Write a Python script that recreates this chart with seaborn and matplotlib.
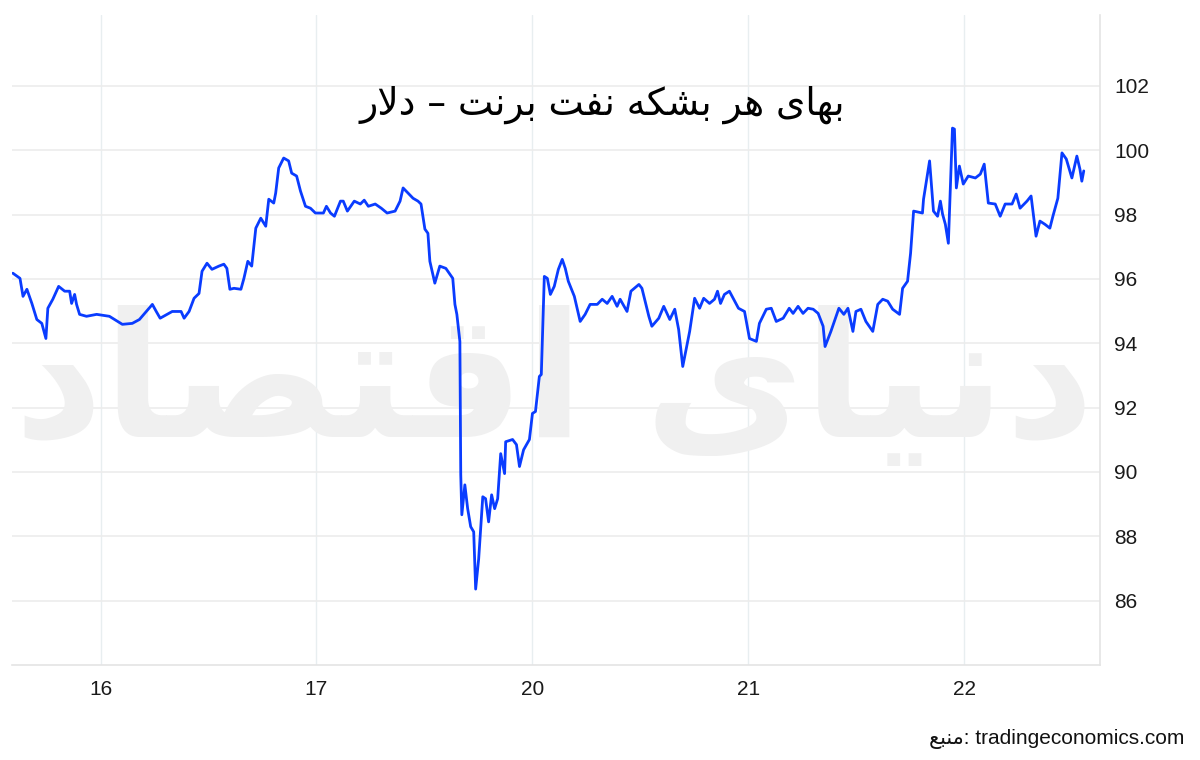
import matplotlib
matplotlib.use("Agg")
import matplotlib.pyplot as plt
import seaborn as sns
import pandas as pd

# ---------------- data (x = trading-day position, 0 -> "16") ----------------
day_labels = ["16", "17", "20", "21", "22"]
day_ticks = [0, 1, 2, 3, 4]
y_ticks = [86, 88, 90, 92, 94, 96, 98, 100, 102]

time_pos = [
    -0.406, -0.373, -0.359, -0.341, -0.318, -0.295, -0.272, -0.253, -0.244, -0.221,
    -0.194, -0.166, -0.143, -0.134, -0.120, -0.111, -0.097, -0.065, -0.018, 0.041,
    0.101, 0.147, 0.180, 0.212, 0.240, 0.258, 0.276, 0.332, 0.373, 0.387,
    0.410, 0.433, 0.456, 0.470, 0.493, 0.516, 0.548, 0.571, 0.585, 0.599,
    0.618, 0.650, 0.664, 0.682, 0.700, 0.719, 0.742, 0.765, 0.779, 0.802,
    0.811, 0.825, 0.848, 0.871, 0.885, 0.908, 0.926, 0.949, 0.972, 0.995,
    1.032, 1.046, 1.065, 1.083, 1.111, 1.124, 1.143, 1.175, 1.203, 1.221,
    1.240, 1.272, 1.300, 1.327, 1.364, 1.387, 1.401, 1.424, 1.447, 1.470,
    1.484, 1.502, 1.516, 1.525, 1.548, 1.571, 1.599, 1.631, 1.641, 1.650,
    1.664, 1.668, 1.673, 1.687, 1.700, 1.714, 1.728, 1.737, 1.751, 1.770,
    1.783, 1.797, 1.811, 1.825, 1.839, 1.853, 1.871, 1.876, 1.908, 1.926,
    1.940, 1.959, 1.986, 2.000, 2.014, 2.032, 2.041, 2.055, 2.069, 2.083,
    2.101, 2.120, 2.138, 2.152, 2.166, 2.194, 2.221, 2.244, 2.267, 2.300,
    2.323, 2.346, 2.369, 2.392, 2.406, 2.438, 2.456, 2.493, 2.507, 2.539,
    2.553, 2.585, 2.608, 2.636, 2.659, 2.677, 2.696, 2.710, 2.728, 2.751,
    2.774, 2.793, 2.820, 2.843, 2.857, 2.871, 2.889, 2.912, 2.954, 2.982,
    3.005, 3.037, 3.051, 3.083, 3.106, 3.129, 3.161, 3.189, 3.207, 3.230,
    3.253, 3.276, 3.300, 3.323, 3.346, 3.355, 3.382, 3.419, 3.442, 3.461,
    3.484, 3.498, 3.521, 3.544, 3.576, 3.599, 3.622, 3.645, 3.668, 3.700,
    3.714, 3.737, 3.751, 3.765, 3.806, 3.811, 3.839, 3.857, 3.876, 3.889,
    3.899, 3.912, 3.926, 3.945, 3.954, 3.963, 3.977, 3.995, 4.018, 4.051,
    4.074, 4.092, 4.111, 4.143, 4.166, 4.189, 4.221, 4.240, 4.258, 4.290,
    4.309, 4.332, 4.350, 4.373, 4.396, 4.410, 4.433, 4.452, 4.472, 4.498,
    4.521, 4.535, 4.544, 4.553,
]
brent_price = [
    96.18, 96.02, 95.46, 95.68, 95.24, 94.74, 94.62, 94.15, 95.09, 95.37,
    95.77, 95.62, 95.62, 95.24, 95.52, 95.21, 94.90, 94.84, 94.90, 94.84,
    94.59, 94.62, 94.74, 94.99, 95.21, 94.99, 94.78, 94.99, 94.99, 94.78,
    94.99, 95.40, 95.55, 96.24, 96.49, 96.30, 96.40, 96.46, 96.33, 95.68,
    95.71, 95.68, 96.02, 96.55, 96.40, 97.58, 97.89, 97.64, 98.48, 98.36,
    98.67, 99.45, 99.76, 99.67, 99.29, 99.20, 98.73, 98.26, 98.20, 98.05,
    98.05, 98.26, 98.05, 97.95, 98.42, 98.42, 98.11, 98.42, 98.33, 98.45,
    98.26, 98.33, 98.20, 98.05, 98.11, 98.42, 98.83, 98.67, 98.51, 98.42,
    98.33, 97.55, 97.42, 96.55, 95.87, 96.40, 96.33, 96.02, 95.21, 94.90,
    94.06, 89.92, 88.67, 89.60, 88.86, 88.30, 88.14, 86.36, 87.30, 89.23,
    89.17, 88.45, 89.29, 88.86, 89.17, 90.57, 89.95, 90.94, 91.01, 90.85,
    90.17, 90.69, 91.01, 91.82, 91.88, 92.97, 93.03, 96.08, 96.02, 95.52,
    95.77, 96.30, 96.61, 96.33, 95.93, 95.46, 94.68, 94.90, 95.21, 95.21,
    95.37, 95.24, 95.46, 95.15, 95.37, 94.99, 95.62, 95.83, 95.71, 94.84,
    94.53, 94.78, 95.15, 94.74, 95.06, 94.43, 93.28, 93.75, 94.37, 95.40,
    95.09, 95.40, 95.24, 95.37, 95.62, 95.24, 95.52, 95.62, 95.09, 94.99,
    94.15, 94.06, 94.62, 95.06, 95.09, 94.68, 94.78, 95.09, 94.93, 95.15,
    94.93, 95.09, 95.06, 94.93, 94.53, 93.90, 94.37, 95.09, 94.90, 95.09,
    94.37, 94.99, 95.06, 94.68, 94.37, 95.21, 95.37, 95.31, 95.06, 94.90,
    95.71, 95.93, 96.80, 98.11, 98.05, 98.48, 99.67, 98.11, 97.95, 98.42,
    98.02, 97.70, 97.11, 100.69, 100.66, 98.83, 99.51, 98.95, 99.20, 99.14,
    99.26, 99.57, 98.36, 98.33, 97.95, 98.33, 98.33, 98.64, 98.20, 98.42,
    98.58, 97.33, 97.80, 97.70, 97.58, 97.95, 98.51, 99.92, 99.73, 99.14,
    99.82, 99.42, 99.04, 99.36,
]

title_text = "بهای هر بشکه نفت برنت – دلار"
source_word = "منبع"
source_rest = ": tradingeconomics.com"
watermark_text = "دنیای اقتصاد"

# ---------------- minimal Arabic-script shaping for matplotlib ----------------
FORMS = {  # isolated, final, initial, medial
    'ا': ('\uFE8D', '\uFE8E', None, None),
    'ب': ('\uFE8F', '\uFE90', '\uFE91', '\uFE92'),
    'ت': ('\uFE95', '\uFE96', '\uFE97', '\uFE98'),
    'د': ('\uFEA9', '\uFEAA', None, None),
    'ر': ('\uFEAD', '\uFEAE', None, None),
    'ش': ('\uFEB5', '\uFEB6', '\uFEB7', '\uFEB8'),
    'ص': ('\uFEB9', '\uFEBA', '\uFEBB', '\uFEBC'),
    'ع': ('\uFEC9', '\uFECA', '\uFECB', '\uFECC'),
    'ف': ('\uFED1', '\uFED2', '\uFED3', '\uFED4'),
    'ق': ('\uFED5', '\uFED6', '\uFED7', '\uFED8'),
    'ک': ('\uFB8E', '\uFB8F', '\uFB90', '\uFB91'),
    'ل': ('\uFEDD', '\uFEDE', '\uFEDF', '\uFEE0'),
    'م': ('\uFEE1', '\uFEE2', '\uFEE3', '\uFEE4'),
    'ن': ('\uFEE5', '\uFEE6', '\uFEE7', '\uFEE8'),
    'ه': ('\uFEE9', '\uFEEA', '\uFEEB', '\uFEEC'),
    'ی': ('\uFBFC', '\uFBFD', '\uFBFE', '\uFBFF'),
}


def shape_rtl(s):
    out = []
    i = 0
    n = len(s)
    while i < n:
        c = s[i]
        if c not in FORMS:
            out.append(c)
            i += 1
            continue
        prev = s[i - 1] if i > 0 else ''
        join_prev = prev in FORMS and FORMS[prev][2] is not None
        if c == 'ل' and i + 1 < n and s[i + 1] == 'ا':
            out.append('\uFEFC' if join_prev else '\uFEFB')
            i += 2
            continue
        nxt = s[i + 1] if i + 1 < n else ''
        join_next = nxt in FORMS and FORMS[c][2] is not None
        iso, fin, ini, med = FORMS[c]
        if join_prev and join_next:
            out.append(med)
        elif join_prev:
            out.append(fin)
        elif join_next:
            out.append(ini)
        else:
            out.append(iso)
        i += 1
    return ''.join(reversed(out))


# ---------------- plot ----------------
sns.set_theme(style="white")
plt.rcParams['font.family'] = ['Liberation Sans', 'DejaVu Sans']

df = pd.DataFrame({"t": time_pos, "price": brent_price})

fig = plt.figure(figsize=(12, 7.6), dpi=100)
ax = fig.add_axes([0.01, 0.125, 0.907, 0.855])

ax.set_xlim(-0.41, 4.63)
ax.set_ylim(84, 104.2)

for name, s in ax.spines.items():
    s.set_visible(name in ("bottom", "right"))
    s.set_color("#e4e4e4")
    s.set_linewidth(1.2)

ax.set_yticks(y_ticks)
ax.set_xticks(day_ticks)
ax.set_xticklabels(day_labels)
ax.yaxis.tick_right()
ax.tick_params(axis="both", length=0, labelsize=15, colors="#1a1a1a")
ax.tick_params(axis="y", pad=10)
ax.tick_params(axis="x", pad=11)
ax.grid(True, axis="y", color="#ececec", lw=1.2, zorder=0)
ax.grid(True, axis="x", color="#e8eef0", lw=1.0, zorder=0)
ax.set_axisbelow(True)

# watermark
ax.text(2.1, 92.6, shape_rtl(watermark_text), family=['DejaVu Sans'],
        fontsize=125, color="#f0f0f0", ha="center", va="center", zorder=1.5,
        fontweight="bold")

sns.lineplot(data=df, x="t", y="price", ax=ax, color="#0a3cff", lw=2.0,
             estimator=None, sort=False, zorder=3)
ax.set_xlabel("")
ax.set_ylabel("")

fig.text(0.502, 0.862, shape_rtl(title_text), family=['DejaVu Sans'],
         fontsize=27, color="black", ha="center", va="center")

fig.text(0.987, 0.027, shape_rtl(source_word) + source_rest,
         family=['Liberation Sans', 'DejaVu Sans'], fontsize=15,
         color="#111111", ha="right", va="center")

fig.savefig("out.png", dpi=100, facecolor="white")
